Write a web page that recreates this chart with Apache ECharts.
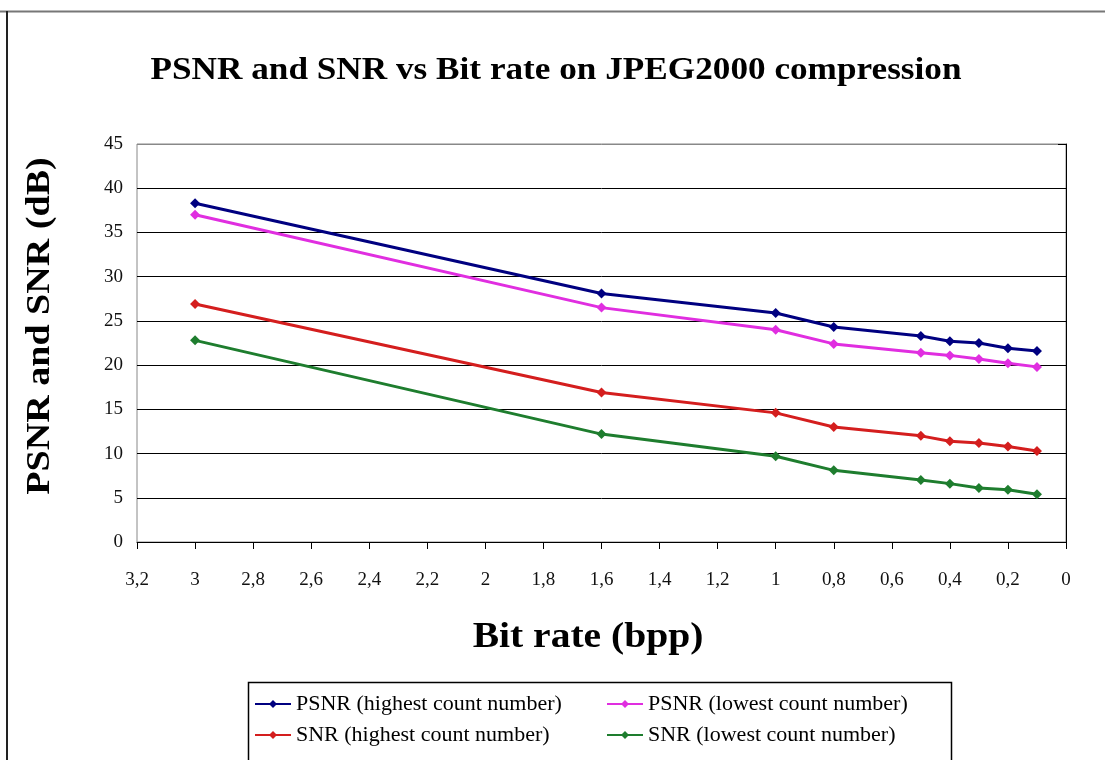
<!DOCTYPE html>
<html>
<head>
<meta charset="utf-8">
<script src="https://cdn.jsdelivr.net/npm/echarts@6/dist/echarts.min.js"></script>
<style>
html,body{margin:0;padding:0;background:#fff;}
#chart{width:1105px;height:760px;}
</style>
</head>
<body>
<div id="chart"></div>
<script>
const bitRates = [3, 1.6, 1, 0.8, 0.5, 0.4, 0.3, 0.2, 0.1];
const psnrHigh = [38.3, 28.1, 25.9, 24.3, 23.3, 22.7, 22.5, 21.9, 21.6];
const psnrLow  = [37.0, 26.5, 24.0, 22.4, 21.4, 21.1, 20.7, 20.2, 19.8];
const snrHigh  = [26.9, 16.9, 14.6, 13.0, 12.0, 11.4, 11.2, 10.8, 10.3];
const snrLow   = [22.8, 12.2, 9.7, 8.1, 7.0, 6.6, 6.1, 5.9, 5.4];
const seriesNames = [
  'PSNR (highest count number)',
  'PSNR (lowest count number)',
  'SNR (highest count number)',
  'SNR (lowest count number)'
];
const seriesColors = ['#000080', '#E02EE0', '#D41E1E', '#1E7D2E'];
const titleText = 'PSNR and SNR vs Bit rate on JPEG2000 compression';
const xName = 'Bit rate (bpp)';
const yName = 'PSNR and SNR (dB)';

const FONT = '"Liberation Serif", "Times New Roman", serif';
const chart = echarts.init(document.getElementById('chart'));

function mk(name, vals, color) {
  return {
    name: name,
    type: 'line',
    data: bitRates.map((x, i) => [x, vals[i]]),
    symbol: 'diamond',
    symbolSize: 10,
    showSymbol: true,
    lineStyle: { color: color, width: 3 },
    itemStyle: { color: color },
    emphasis: { disabled: true },
    animation: false
  };
}

const splitColors = [];
for (let i = 0; i < 9; i++) splitColors.push('#000');
splitColors.push('#888');

chart.setOption({
  backgroundColor: '#fff',
  animation: false,
  grid: {
    left: 137, right: 39, top: 144, bottom: 218,
    show: true, borderColor: '#888', borderWidth: 1, backgroundColor: 'transparent'
  },
  xAxis: {
    type: 'value',
    min: 0, max: 3.2, interval: 0.2,
    inverse: true,
    axisLine: { show: true, onZero: false, lineStyle: { color: '#000', width: 1 } },
    axisTick: { show: true, length: 7, lineStyle: { color: '#000' } },
    axisLabel: {
      fontFamily: FONT, fontSize: 19, color: '#111', margin: 29,
      formatter: v => String(Math.round(v * 10) / 10).replace('.', ',')
    },
    splitLine: { show: false }
  },
  yAxis: {
    type: 'value',
    min: 0, max: 45, interval: 5,
    axisLine: { show: true, lineStyle: { color: '#000', width: 1 } },
    axisTick: { show: true, length: 8, lineStyle: { color: '#000' } },
    axisLabel: { fontFamily: FONT, fontSize: 19, color: '#111', margin: 14 },
    splitLine: { show: true, lineStyle: { color: splitColors, width: 1 } }
  },
  legend: [
    {
      data: [seriesNames[0], seriesNames[2]],
      orient: 'vertical',
      left: 254, top: 693, padding: 0,
      itemWidth: 36, itemHeight: 10, itemGap: 9,
      textStyle: { fontFamily: FONT, fontSize: 22, color: '#000' }
    },
    {
      data: [seriesNames[1], seriesNames[3]],
      orient: 'vertical',
      left: 606, top: 693, padding: 0,
      itemWidth: 36, itemHeight: 10, itemGap: 9,
      textStyle: { fontFamily: FONT, fontSize: 22, color: '#000' }
    }
  ],
  graphic: [
    { type: 'line', shape: { x1: 0, y1: 11.5, x2: 1105, y2: 11.5 }, style: { stroke: '#777', lineWidth: 2 } },
    { type: 'line', shape: { x1: 7, y1: 11, x2: 7, y2: 760 }, style: { stroke: '#222', lineWidth: 2 } },
    { type: 'rect', shape: { x: 248.5, y: 682.5, width: 703, height: 80 }, style: { fill: 'none', stroke: '#000', lineWidth: 1.5 }, z: 0 },
    {
      type: 'text', x: 556, y: 71, scaleX: 1.1,
      style: { text: titleText, font: 'bold 32px ' + FONT, fill: '#000', textAlign: 'center', textVerticalAlign: 'middle' }
    },
    {
      type: 'text', x: 588, y: 638, scaleX: 1.13,
      style: { text: xName, font: 'bold 35px ' + FONT, fill: '#000', textAlign: 'center', textVerticalAlign: 'middle' }
    },
    {
      type: 'text', x: 40, y: 326, rotation: Math.PI / 2, scaleX: 1.12,
      style: { text: yName, font: 'bold 34px ' + FONT, fill: '#000', textAlign: 'center', textVerticalAlign: 'middle' }
    }
  ],
  series: [
    mk(seriesNames[0], psnrHigh, seriesColors[0]),
    mk(seriesNames[1], psnrLow, seriesColors[1]),
    mk(seriesNames[2], snrHigh, seriesColors[2]),
    mk(seriesNames[3], snrLow, seriesColors[3])
  ]
});
</script>
</body>
</html>
